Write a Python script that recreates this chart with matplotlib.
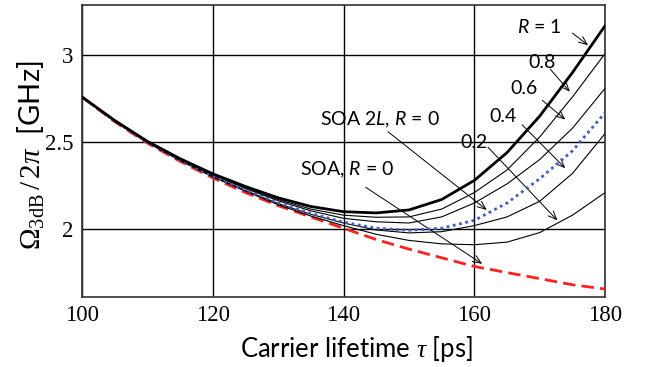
import matplotlib
matplotlib.use('Agg')
import matplotlib.pyplot as plt

# 字体设置
plt.rcParams['font.family'] = ['Lato', 'DejaVu Sans']
plt.rcParams['mathtext.fontset'] = 'custom'
plt.rcParams['mathtext.rm'] = 'Liberation Serif'
plt.rcParams['mathtext.it'] = 'Liberation Serif:italic'
plt.rcParams['mathtext.sf'] = 'Lato:italic'
plt.rcParams['mathtext.fallback'] = 'stix'

# 数据
tau = [100, 105, 110, 115, 120, 125, 130, 135, 140, 145, 150, 155, 160, 165, 170, 175, 180]
r10 = [2.76, 2.625, 2.505, 2.405, 2.318, 2.245, 2.18, 2.13, 2.10, 2.093, 2.11, 2.17, 2.28, 2.44, 2.65, 2.90, 3.17]
r08 = [2.76, 2.624, 2.503, 2.402, 2.313, 2.238, 2.17, 2.115, 2.08, 2.068, 2.07, 2.115, 2.21, 2.34, 2.53, 2.76, 3.01]
r06 = [2.76, 2.623, 2.502, 2.40, 2.31, 2.233, 2.163, 2.105, 2.062, 2.042, 2.035, 2.07, 2.15, 2.26, 2.40, 2.58, 2.81]
r04 = [2.76, 2.621, 2.499, 2.396, 2.303, 2.222, 2.147, 2.085, 2.035, 1.995, 1.978, 1.985, 2.02, 2.07, 2.16, 2.32, 2.55]
r02 = [2.76, 2.62, 2.498, 2.394, 2.30, 2.218, 2.14, 2.075, 2.02, 1.97, 1.935, 1.915, 1.91, 1.925, 1.98, 2.08, 2.21]
soa2l = [2.76, 2.622, 2.50, 2.397, 2.305, 2.225, 2.15, 2.09, 2.04, 2.005, 1.993, 2.005, 2.05, 2.15, 2.29, 2.45, 2.67]
soa = [2.76, 2.618, 2.495, 2.39, 2.295, 2.21, 2.135, 2.07, 2.005, 1.94, 1.885, 1.835, 1.785, 1.75, 1.715, 1.68, 1.655]

# 标注: 文字, 文字位置, 箭头起点, 箭头终点
labels = [r'$\mathsf{R}$ = 1', '0.8', '0.6', '0.4', '0.2',
          r'SOA 2$\mathsf{L}$, $\mathsf{R}$ = 0', r'SOA, $\mathsf{R}$ = 0']
label_xy = [(169.9, 3.163), (170.3, 2.96), (167.6, 2.81), (164.4, 2.645), (160.0, 2.50), (145.5, 2.626), (140.6, 2.34)]
arrow_from = [(175.0, 3.127), (171.6, 2.92), (170.4, 2.74), (167.3, 2.60), (162.1, 2.47), (146.8, 2.56), (143.4, 2.24)]
arrow_to = [(177.4, 3.057), (174.6, 2.79), (173.9, 2.63), (173.9, 2.35), (172.7, 2.05), (161.9, 2.11), (161.2, 1.80)]

fig = plt.figure(figsize=(6.5, 3.67), dpi=100)
ax = fig.add_axes([0.126, 0.191, 0.805, 0.796])

ax.plot(tau, soa, color='#ff2020', lw=2.0, linestyle=(0, (4.5, 2.2)), zorder=3)
for r in [r02, r04, r06, r08]:
    ax.plot(tau, r, color='black', lw=0.8, zorder=3)
ax.plot(tau, soa2l, color='#3d5cc4', lw=2.0, linestyle=(0, (1, 1.3)), zorder=4)
ax.plot(tau, r10, color='black', lw=2.0, zorder=5)

for txt, p, a, b in zip(labels, label_xy, arrow_from, arrow_to):
    ax.text(p[0], p[1], txt, ha='center', va='center', fontsize=14)
    ax.annotate('', xy=b, xytext=a,
                arrowprops=dict(arrowstyle='->,head_length=0.6,head_width=0.25',
                                lw=0.7, color='black', shrinkA=0, shrinkB=0))

ax.set_xlim(100, 180)
ax.set_ylim(1.61, 3.29)
ax.set_xticks([100, 120, 140, 160, 180])
ax.set_yticks([2, 2.5, 3])
ax.set_yticklabels(['2', '2.5', '3'])
ax.tick_params(length=0, labelsize=16.5, pad=6)
for lab in ax.get_xticklabels() + ax.get_yticklabels():
    lab.set_fontfamily('Liberation Serif')
ax.grid(True, color='black', lw=1.0)
for s in ax.spines.values():
    s.set_linewidth(1.2)
    s.set_color('#333333')

ax.set_xlabel(r'Carrier lifetime $\tau$ [ps]', fontsize=18.5, va='center')
ax.xaxis.set_label_coords(0.524, -0.18)
ax.set_ylabel(r'$\Omega_{\rm 3dB}\,/\,2\pi$  [GHz]', fontsize=21, va='center')
ax.yaxis.set_label_coords(-0.096, 0.486)

plt.savefig('out.png', dpi=100)
